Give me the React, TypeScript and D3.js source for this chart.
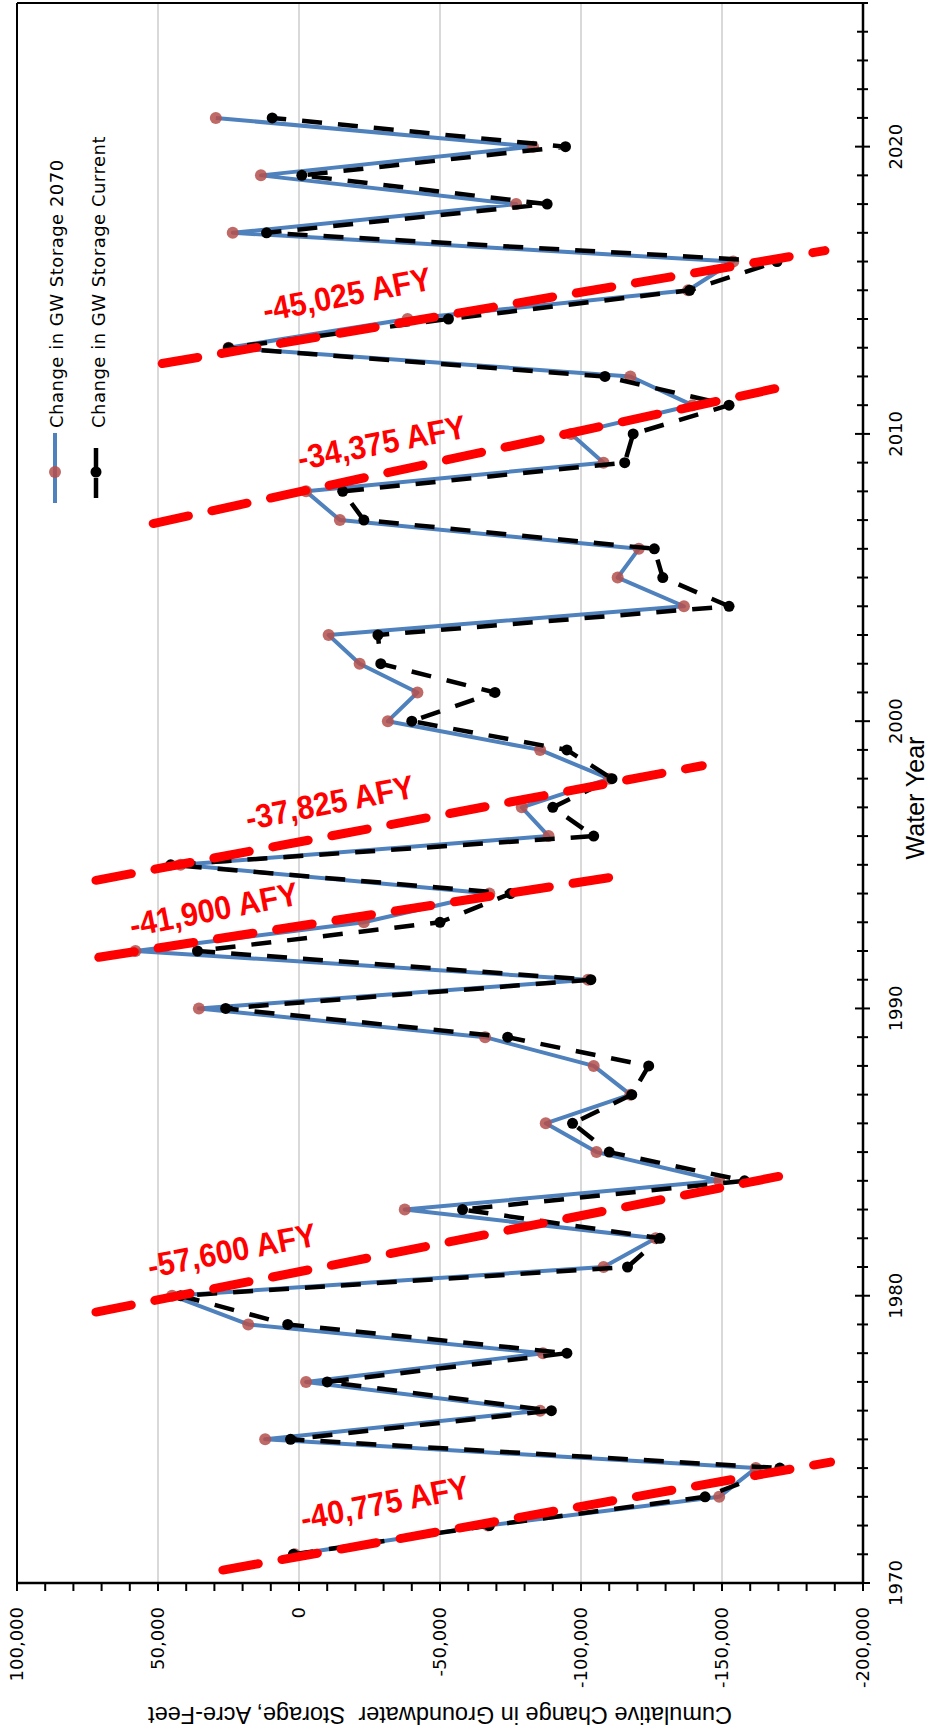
import React from 'react';
import * as d3 from 'd3';

// water years shown in the chart
const years = [
  1971, 1972, 1973, 1974, 1975, 1976, 1977, 1978, 1979, 1980,
  1981, 1982, 1983, 1984, 1985, 1986, 1987, 1988, 1989, 1990,
  1991, 1992, 1993, 1994, 1995, 1996, 1997, 1998, 1999, 2000,
  2001, 2002, 2003, 2004, 2005, 2006, 2007, 2008, 2009, 2010,
  2011, 2012, 2013, 2014, 2015, 2016, 2017, 2018, 2019, 2020, 2021,
];

// Change in GW Storage 2070 (acre-feet)
const storage2070 = [
  1500, -67000, -149000, -162000, 12000, -85500, -2500, -86500, 18000, 45000,
  -108000, -126500, -37500, -149000, -105500, -87500, -117500, -104500, -66000, 35500,
  -102500, 58000, -23000, -67500, 42000, -88500, -79000, -110000, -85500, -31500,
  -42000, -21500, -10500, -136500, -113000, -120500, -14500, -2500, -108000, -96500,
  -139500, -117500, 25000, -38500, -138000, -154000, 23500, -77000, 13500, -83000, 29500,
];

// Change in GW Storage Current (acre-feet)
const storageCurrent = [
  2000, -67500, -144000, -170500, 3000, -89500, -10000, -95000, 4000, 42000,
  -116500, -128000, -58000, -158000, -110000, -97000, -118000, -124000, -74000, 26000,
  -103500, 36000, -50000, -75000, 45500, -104500, -90000, -111000, -95000, -40000,
  -69500, -29000, -28000, -152500, -129000, -126000, -23000, -15500, -115500, -118500,
  -152500, -108500, 25000, -53000, -138500, -169500, 11500, -88000, -1000, -94500, 9500,
];

// drought-period trend lines (year, storage) and their labels
const trendLabels = ['-40,775 AFY', '-57,600 AFY', '-41,900 AFY', '-37,825 AFY', '-34,375 AFY', '-45,025 AFY'];
const trendStartYear = [1970.45, 1979.43, 1991.78, 1994.46, 2006.88, 2012.45];
const trendStartValue = [27000, 72000, 71000, 72000, 51700, 48500];
const trendEndYear = [1974.21, 1984.27, 1994.57, 1998.45, 2011.75, 2016.38];
const trendEndValue = [-188500, -176000, -111000, -143000, -177000, -186500];
const labelYear = [1971.84, 1980.62, 1992.49, 1996.21, 2008.74, 2013.9];
const labelValue = [-1400, 52800, 59200, 18100, -350, 12000];

const seriesNames = ['Change in GW Storage 2070', 'Change in GW Storage Current'];
const valueTicks = [100000, 50000, 0, -50000, -100000, -150000, -200000];
const yearTicks = [1970, 1980, 1990, 2000, 2010, 2020];

const W = 942;
const H = 1728;

export default function App() {
  const left = 17;
  const right = 863;
  const top = 3;
  const bottom = 1583;

  const x = d3.scaleLinear().domain([100000, -200000]).range([left, right]);
  const y = d3.scaleLinear().domain([1970, 2025]).range([bottom, top]);

  const fmt = (v: number) => d3.format(',')(v).replace('\u2212', '-');

  const seriesLine = d3
    .line<number>()
    .x((d) => x(d))
    .y((d, i) => y(years[i]));

  const minorValues = d3.range(-200000, 100001, 10000);
  const minorYears = d3.range(1970, 2026, 1);

  const tickFont = 'DejaVu Sans, Verdana, sans-serif';
  const labelFont = 'Liberation Sans, Arial, sans-serif';

  return (
    <div style={{ position: 'absolute', left: 0, top: 0 }}>
      <svg width={W} height={H} style={{ display: 'block', background: '#fff' }}>
        {/* gridlines */}
        {valueTicks
          .filter((v) => v !== 100000 && v !== -200000)
          .map((v) => (
            <line key={'g' + v} x1={x(v)} x2={x(v)} y1={top} y2={bottom} stroke="#d9d9d9" strokeWidth={2} />
          ))}

        {/* plot frame */}
        <line x1={left} x2={left} y1={top} y2={bottom} stroke="#000" strokeWidth={2} />
        <line x1={left} x2={right} y1={top} y2={top} stroke="#000" strokeWidth={2} />

        {/* value axis (bottom) */}
        <line x1={left} x2={right + 1} y1={bottom} y2={bottom} stroke="#000" strokeWidth={2.5} />
        {minorValues.map((v) => (
          <line key={'mv' + v} x1={x(v)} x2={x(v)} y1={bottom} y2={bottom + 8} stroke="#000" strokeWidth={2} />
        ))}
        {valueTicks.map((v) => (
          <text
            key={'vl' + v}
            transform={`translate(${x(v) + 6},${bottom + 24}) rotate(-90)`}
            textAnchor="end"
            fontFamily={tickFont}
            fontSize={18}
            fill="#000"
          >
            {fmt(v)}
          </text>
        ))}
        <text
          transform={`translate(${(left + right) / 2},${1707}) rotate(180)`}
          textAnchor="middle"
          fontFamily={labelFont}
          fontSize={23.5}
          fill="#000"
          style={{ whiteSpace: 'pre' }}
        >
          {'Cumulative Change in Groundwater  Storage, Acre-Feet'}
        </text>

        {/* year axis (right) */}
        <line x1={right} x2={right} y1={top} y2={bottom + 1} stroke="#000" strokeWidth={2.5} />
        {minorYears.map((yr) => {
          const major = yr % 10 === 0;
          return (
            <line
              key={'my' + yr}
              x1={right - (major ? 8 : 6)}
              x2={right + (major ? 7 : 5)}
              y1={y(yr)}
              y2={y(yr)}
              stroke="#000"
              strokeWidth={2}
            />
          );
        })}
        {yearTicks.map((yr) => (
          <text
            key={'yl' + yr}
            transform={`translate(${902},${y(yr)}) rotate(-90)`}
            textAnchor="middle"
            fontFamily={tickFont}
            fontSize={18}
            fill="#000"
          >
            {yr}
          </text>
        ))}
        <text
          transform={`translate(${924},${798}) rotate(-90)`}
          textAnchor="middle"
          fontFamily={labelFont}
          fontSize={25}
          fill="#000"
        >
          Water Year
        </text>

        {/* series */}
        <path d={seriesLine(storage2070) || ''} fill="none" stroke="#4f81bd" strokeWidth={4} strokeLinejoin="round" />
        {storage2070.map((v, i) => (
          <circle key={'r' + i} cx={x(v)} cy={y(years[i])} r={6} fill="#b4504c" opacity={0.85} />
        ))}
        <path
          d={seriesLine(storageCurrent) || ''}
          fill="none"
          stroke="#000"
          strokeWidth={4.5}
          strokeDasharray="20,16"
          strokeLinejoin="round"
        />
        {storageCurrent.map((v, i) => (
          <circle key={'b' + i} cx={x(v)} cy={y(years[i])} r={5.5} fill="#000" />
        ))}

        {/* trend lines */}
        {trendLabels.map((t, i) => (
          <line
            key={'t' + i}
            x1={x(trendStartValue[i])}
            y1={y(trendStartYear[i])}
            x2={x(trendEndValue[i])}
            y2={y(trendEndYear[i])}
            stroke="#ff0000"
            strokeWidth={9}
            strokeDasharray="36,24"
            strokeLinecap="round"
          />
        ))}
        {trendLabels.map((t, i) => (
          <text
            key={'tl' + i}
            transform={`translate(${x(labelValue[i])},${y(labelYear[i])}) rotate(-11) scale(0.92,1)`}
            fontFamily={labelFont}
            fontWeight="bold"
            fontSize={33}
            fill="#ff0000"
          >
            {t}
          </text>
        ))}

        {/* legend */}
        <line x1={55} x2={55} y1={433} y2={503} stroke="#4f81bd" strokeWidth={4} />
        <circle cx={55} cy={472} r={6} fill="#b4504c" opacity={0.85} />
        <line x1={96} x2={96} y1={448} y2={503} stroke="#000" strokeWidth={4.5} strokeDasharray="20,10" />
        <circle cx={96} cy={472} r={5.5} fill="#000" />
        {seriesNames.map((s, i) => (
          <text
            key={'lg' + i}
            transform={`translate(${63 + i * 42},${428}) rotate(-90)`}
            fontFamily={tickFont}
            fontSize={18}
            letterSpacing={0.5}
            fill="#000"
          >
            {s}
          </text>
        ))}
      </svg>
    </div>
  );
}
